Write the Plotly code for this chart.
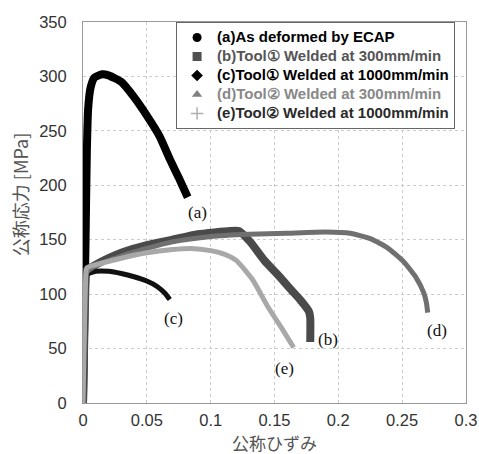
import plotly.graph_objects as go

# ---- data (strain, nominal stress in MPa) ----
a_strain = [0, 0.002, 0.003, 0.004, 0.006, 0.009, 0.015, 0.02, 0.03, 0.04, 0.05, 0.06, 0.068, 0.075, 0.082]
a_stress = [0, 150, 230, 270, 290, 299, 302, 301, 295, 281, 264, 245, 224, 207, 189]

b_strain = [0, 0.001, 0.002, 0.003, 0.01, 0.02, 0.03, 0.05, 0.07, 0.09, 0.115, 0.122, 0.131, 0.142, 0.154, 0.163, 0.170, 0.177, 0.178, 0.178]
b_stress = [0, 60, 110, 122, 127, 133, 138, 145, 150, 155, 158, 158, 148, 131, 116, 104, 95, 84, 78, 56]

c_strain = [0, 0.001, 0.002, 0.003, 0.01, 0.02, 0.03, 0.04, 0.05, 0.058, 0.064, 0.068]
c_stress = [0, 60, 110, 118, 121, 121, 119, 116, 112, 107, 101, 95]

d_strain = [0, 0.001, 0.002, 0.003, 0.01, 0.03, 0.05, 0.07, 0.1, 0.13, 0.16, 0.19, 0.209, 0.225, 0.238, 0.251, 0.261, 0.267, 0.269, 0.27]
d_stress = [0, 60, 110, 120, 126, 135, 142, 148, 153, 155, 156, 157, 156, 151, 143, 130, 115, 101, 92, 83]

e_strain = [0, 0.001, 0.002, 0.003, 0.01, 0.03, 0.05, 0.07, 0.085, 0.1, 0.11, 0.12, 0.133, 0.145, 0.155, 0.165]
e_stress = [0, 60, 110, 124, 127, 133, 138, 141, 142, 140, 137, 131, 113, 88, 70, 51]

series_names = [
    "(a)As deformed by ECAP",
    "(b)Tool① Welded at 300mm/min",
    "(c)Tool① Welded at 1000mm/min",
    "(d)Tool② Welded at 300mm/min",
    "(e)Tool② Welded at 1000mm/min",
]

label_text = ["(a)", "(b)", "(c)", "(d)", "(e)"]
label_x = [0.0893, 0.192, 0.0705, 0.277, 0.158]
label_y = [175, 58, 78, 67, 32]

x_ticks = [0, 0.05, 0.1, 0.15, 0.2, 0.25, 0.3]
x_tick_text = ["0", "0.05", "0.1", "0.15", "0.2", "0.25", "0.3"]
y_ticks = [0, 50, 100, 150, 200, 250, 300, 350]

# ---- styles ----
line_colors = ["#000000", "#4a4a4a", "#111111", "#707070", "#a8a8a8"]
line_widths = [8, 8, 5, 5, 5]
marker_symbols = ["circle", "square", "diamond", "triangle-up", "cross-thin"]
marker_colors = ["#000000", "#505050", "#000000", "#808080", "#b0b0b0"]
text_colors = ["#000000", "#555555", "#000000", "#888888", "#2a2a2a"]

data = [
    (a_strain, a_stress),
    (b_strain, b_stress),
    (c_strain, c_stress),
    (d_strain, d_stress),
    (e_strain, e_stress),
]

fig = go.Figure()

for i, (xs, ys) in enumerate(data):
    fig.add_trace(go.Scatter(
        x=xs, y=ys, mode="lines",
        line=dict(color=line_colors[i], width=line_widths[i], shape="spline", smoothing=0.5),
        showlegend=False, hoverinfo="skip",
    ))

for i in range(5):
    fig.add_trace(go.Scatter(
        x=[None], y=[None], mode="markers",
        marker=dict(symbol=marker_symbols[i], color=marker_colors[i], size=9,
                    line=dict(color=marker_colors[i], width=1.5 if i == 4 else 0)),
        name=(f"<span style='font-size:15px;color:{text_colors[i]}'>"
              f"<b>{series_names[i]}</b></span>"),
    ))

for t, x, y in zip(label_text, label_x, label_y):
    fig.add_annotation(x=x, y=y, text=t, showarrow=False,
                       font=dict(family="Liberation Serif", size=17, color="#111"))

fig.add_annotation(xref="paper", yref="paper", x=-0.164, y=0.546, text="公称応力 [MPa]",
                   textangle=-90, showarrow=False, xanchor="center", yanchor="middle",
                   font=dict(family="Noto Sans CJK JP", size=18, color="#555"))
fig.add_annotation(xref="paper", yref="paper", x=0.5, y=-0.104, text="公称ひずみ",
                   showarrow=False, xanchor="center", yanchor="middle",
                   font=dict(family="Noto Sans CJK JP", size=17, color="#555"))

axis_common = dict(
    showline=True, linecolor="#999999", linewidth=1, mirror=True,
    showgrid=True, gridcolor="#cccccc", griddash="dot", gridwidth=1,
    zeroline=False, ticks="outside", tickcolor="rgba(0,0,0,0)",
    tickfont=dict(family="Liberation Sans", size=16.5, color="#333"),
    automargin=False,
)

fig.update_xaxes(range=[0, 0.3], tickvals=x_ticks, ticktext=x_tick_text, ticklen=2, **axis_common)
fig.update_yaxes(range=[0, 350], tickvals=y_ticks, ticklen=12, **axis_common)

fig.update_layout(
    width=479, height=454,
    margin=dict(l=83, r=13, t=22, b=51),
    plot_bgcolor="white", paper_bgcolor="white",
    legend=dict(x=0.243, y=1.0, xanchor="left", yanchor="top",
                bgcolor="white", bordercolor="#666666", borderwidth=1,
                font=dict(family="Liberation Sans", size=11, color="#000"),
                tracegroupgap=0),
)

fig.write_html("out.html", config={"displayModeBar": False},
               post_script="document.body.style.margin='0';document.body.style.overflow='hidden';")
